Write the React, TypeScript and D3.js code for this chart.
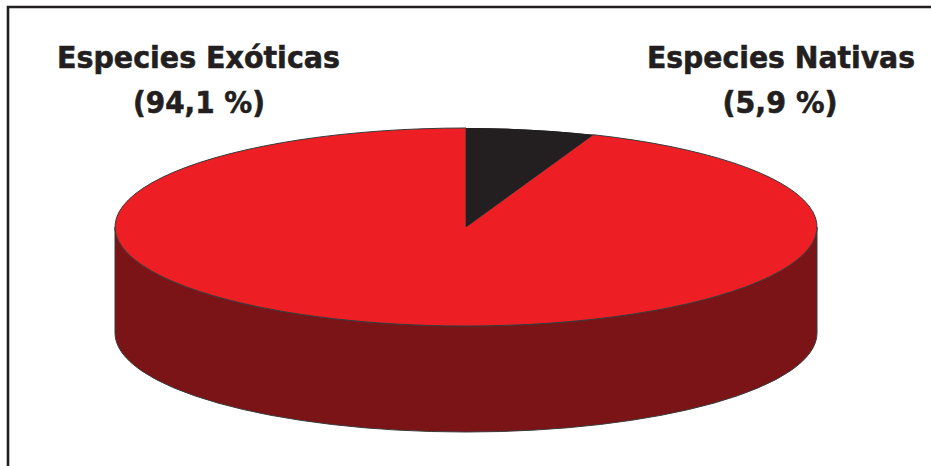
import React from "react";
import * as d3 from "d3";

const categories = ["Especies Nativas", "Especies Exóticas"];
const values = [5.9, 94.1];
const valueLabels = ["(5,9 %)", "(94,1 %)"];

const W = 931;
const H = 466;
const cx = 466;
const cy = 227;
const rx = 351;
const ry = 99;
const depth = 106;

const topColors = ["#231F20", "#ED1F24"];
const sideColor = "#7B1416";
const edge = "#3a3a3a";

export default function App() {
  const pie = d3.pie<number>().sort(null).startAngle(0).endAngle(2 * Math.PI)(values);
  const arc = d3.arc<d3.PieArcDatum<number>>().innerRadius(0).outerRadius(rx);

  const sidePath = `M${cx - rx},${cy} A${rx},${ry} 0 0 0 ${cx + rx},${cy} L${cx + rx},${cy + depth} A${rx},${ry} 0 0 1 ${cx - rx},${cy + depth} Z`;

  const labelPos = [
    { x: 781, w: 268 },
    { x: 198.5, w: 283 },
  ];
  const valPos = [
    { x: 780, w: 115 },
    { x: 199, w: 132 },
  ];

  return (
    <svg
      width={W}
      height={H}
      style={{ position: "absolute", left: 0, top: 0, background: "#fff" }}
      fontFamily="'DejaVu Sans', Verdana, sans-serif"
    >
      <rect x={0} y={0} width={W} height={H} fill="#fff" />
      <path d={`M8,${H + 5} V7 H${W + 5}`} fill="none" stroke="#231F20" strokeWidth={2.6} />
      <path d={sidePath} fill={sideColor} stroke={edge} strokeWidth={1} />
      <g transform={`translate(${cx},${cy}) scale(1,${ry / rx})`}>
        {pie.map((d, i) => (
          <path
            key={i}
            d={arc(d) || ""}
            fill={topColors[i]}
            stroke={i === 1 ? edge : "none"}
            strokeWidth={1}
            vectorEffect="non-scaling-stroke"
          />
        ))}
        <path d={arc(pie[0]) || ""} fill={topColors[0]} stroke="none" />
      </g>
      {categories.map((c, i) => (
        <text
          key={c}
          x={labelPos[i].x}
          y={68}
          textAnchor="middle"
          fontWeight="bold"
          fontSize={30}
          fill="#231F20"
          stroke="#231F20"
          strokeWidth={0.6}
          textLength={labelPos[i].w}
          lengthAdjust="spacingAndGlyphs"
        >
          {c}
        </text>
      ))}
      {valueLabels.map((v, i) => (
        <text
          key={v}
          x={valPos[i].x}
          y={113}
          textAnchor="middle"
          fontWeight="bold"
          fontSize={30}
          fill="#231F20"
          stroke="#231F20"
          strokeWidth={0.6}
          textLength={valPos[i].w}
          lengthAdjust="spacingAndGlyphs"
        >
          {v}
        </text>
      ))}
    </svg>
  );
}
